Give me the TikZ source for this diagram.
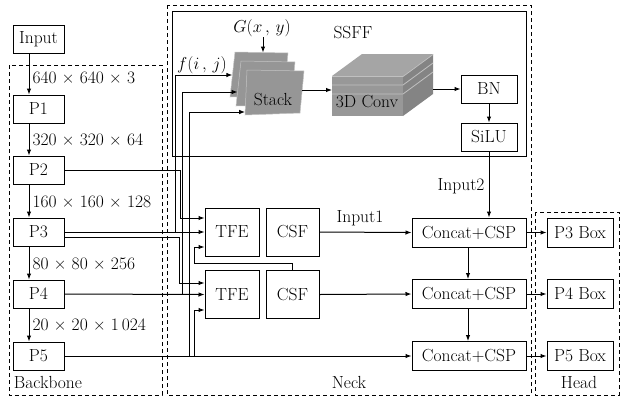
\documentclass[tikz,border=0pt]{standalone}
\usetikzlibrary{arrows.meta,calc}
\definecolor{stkgray}{RGB}{150,150,150}
\definecolor{stkedge}{RGB}{195,195,195}
\definecolor{cvtop}{RGB}{165,165,165}
\definecolor{cvfront}{RGB}{152,152,152}
\definecolor{cvside}{RGB}{132,132,132}
\definecolor{cvband}{RGB}{192,192,192}
\begin{document}
\begin{tikzpicture}[x=1pt,y=-1pt,
  font=\fontsize{17.5}{19}\selectfont,
  line width=1pt,
  box/.style={draw, inner sep=0pt, line width=1pt},
  pbox/.style={box, minimum width=51pt, minimum height=28pt},
  tbox/.style={box, minimum width=54pt, minimum height=48pt},
  cbox/.style={box, minimum width=114pt, minimum height=29pt},
  hbox/.style={box, minimum width=66pt, minimum height=29pt},
  sbox/.style={box, minimum width=56pt, minimum height=28pt},
  lab/.style={inner sep=0pt},
  arr/.style={-{Latex[length=6pt,width=4.5pt]}},
  dbox/.style={draw, dash pattern=on 4pt off 3pt, line width=0.8pt},
  layer/.style={fill=stkgray, draw=stkedge, line width=0.5pt}
]
\useasboundingbox (0,0) rectangle (621,397);

% dashed regions
\draw[dbox] (9,65) rectangle (162,395);
\draw[dbox] (167,5) rectangle (531,395);
\draw[dbox] (535,212) rectangle (619,395);
\node[lab] (bbl) at (48,382) {Backbone};
\node[lab] (nkl) at (349,382) {Neck};
\node[lab] (hdl) at (579,382) {Head};

% SSFF box
\draw (172,11) rectangle (526,156);
\node[lab] (ssff) at (353,33) {SSFF};

% backbone
\node[pbox] (Input) at (38.5,39) {Input};
\node[pbox] (P1) at (38.5,109) {P1};
\node[pbox] (P2) at (38.5,170) {P2};
\node[pbox] (P3) at (38.5,232) {P3};
\node[pbox] (P4) at (38.5,294) {P4};
\node[pbox] (P5) at (38.5,356) {P5};
\coordinate (bx) at (29,0);
\draw[arr] (Input.south -| bx) -- (P1.north -| bx);
\draw[arr] (P1.south -| bx) -- (P2.north -| bx);
\draw[arr] (P2.south -| bx) -- (P3.north -| bx);
\draw[arr] (P3.south -| bx) -- (P4.north -| bx);
\draw[arr] (P4.south -| bx) -- (P5.north -| bx);
\node[lab, anchor=west] (d1) at (32,78) {640 × 640 × 3};
\node[lab, anchor=west] (d2) at (32,140) {320 × 320 × 64};
\node[lab, anchor=west] (d3) at (32,202) {160 × 160 × 128};
\node[lab, anchor=west] (d4) at (32,264) {80 × 80 × 256};
\node[lab, anchor=west] (d5) at (32,325) {20 × 20 × 1\,024};

% neck boxes
\node[tbox] (TFE1) at (232,232) {TFE};
\node[tbox] (TFE2) at (232,294.5) {TFE};
\node[tbox, minimum width=53pt] (CSF1) at (292.5,232) {CSF};
\node[tbox, minimum width=53pt] (CSF2) at (292.5,294.5) {CSF};
\node[cbox] (C1) at (469,232.5) {Concat+CSP};
\node[cbox] (C2) at (469,294) {Concat+CSP};
\node[cbox] (C3) at (469,356) {Concat+CSP};
\node[hbox] (B3) at (580,232.5) {P3 Box};
\node[hbox] (B4) at (580,294) {P4 Box};
\node[hbox] (B5) at (580,356) {P5 Box};
\node[sbox] (BN) at (489,89) {BN};
\node[sbox] (SiLU) at (489,137) {SiLU};

% stack layers
\draw[layer] (235,52) -- (288,53) -- (284,96) -- (230,97) -- cycle;
\draw[layer] (241,61) -- (295,62) -- (291,105) -- (236,106) -- cycle;
\draw[layer] (247,70) -- (304,71) -- (300,113) -- (245,115) -- cycle;
\node[lab] (stack) at (273,100) {Stack};
\coordinate (stkA) at (232.4,75);
\coordinate (stkB) at (237.6,92);
\coordinate (stkC) at (245.2,112);
\coordinate (stkT) at (263,52.5);
\coordinate (stkR) at (302,90);

% 3D conv block
\fill[cvtop] (332,76) -- (403,76) -- (433,54) -- (362,54) -- cycle;
\fill[cvfront] (332,76) rectangle (403,116);
\fill[cvside] (403,76) -- (433,54) -- (433,94) -- (403,116) -- cycle;
\draw[cvband, line width=0.8pt] (332,76.5) -- (403,76.5) -- (433,54.5);
\draw[cvband, line width=0.8pt] (332,85) -- (403,85) -- (433,63);
\draw[cvband, line width=0.8pt] (332,94) -- (403,94) -- (433,72);
\node[lab] (conv) at (367,102) {3D Conv};
\coordinate (convL) at (332,90);
\coordinate (convR) at (433,89);

% SSFF internals
\node[lab] (G) at (262,28) {$G(x\,,\,y)$};
\draw[arr] (G.south -| stkT) -- (stkT);
\node[lab] (f) at (202,65) {$f(i\,,\,j)$};
\draw[arr] (stkR) -- (convL);
\draw[arr] (convR) -- (BN.west);
\draw[arr] (BN.south) -- (SiLU.north);
\draw[arr] (SiLU.south) -- (SiLU.south |- C1.north);
\node[lab, anchor=east] (in2) at (485,186) {Input2};

% backbone -> neck wiring
\coordinate (j3) at (175.5,232);
\coordinate (j4) at (182.5,294);
\coordinate (j5a) at (189,356);
\coordinate (j5b) at (194,356);
\draw[arr] (P2.east) -| (180,218) -- ($(TFE1.west)+(0,-14)$);
\draw[arr] (P3.east) -- (TFE1.west);
\draw[arr] ($(P3.east)+(0,5)$) -| (179,283) -- ($(TFE2.west)+(0,-11.5)$);
\draw[arr] (P4.east) -- (TFE2.west);
\draw[arr] (P5.east) -- (C3.west);
\draw[arr] (j3) |- (stkA);
\draw[arr] (j4) |- (stkB);
\draw[arr] (j5a) |- (stkC);
\draw[arr] (j5b) |- ($(TFE2.west)+(0,15.5)$);
\draw[arr] (CSF2.north) |- (194,263) |- ($(TFE1.west)+(0,15)$);

% neck -> concat
\draw[arr] (CSF1.east) -- (C1.west);
\node[lab] (in1) at (360,218) {Input1};
\draw[arr] (CSF2.east) -- (C2.west);
\draw[arr] ($(C1.south)+(-1,0)$) -- ($(C2.north)+(-1,0)$);
\draw[arr] ($(C2.south)+(-1,0)$) -- ($(C3.north)+(-1,0)$);
\draw[arr] (C1.east) -- (B3.west);
\draw[arr] (C2.east) -- (B4.west);
\draw[arr] (C3.east) -- (B5.west);
\end{tikzpicture}
\end{document}
